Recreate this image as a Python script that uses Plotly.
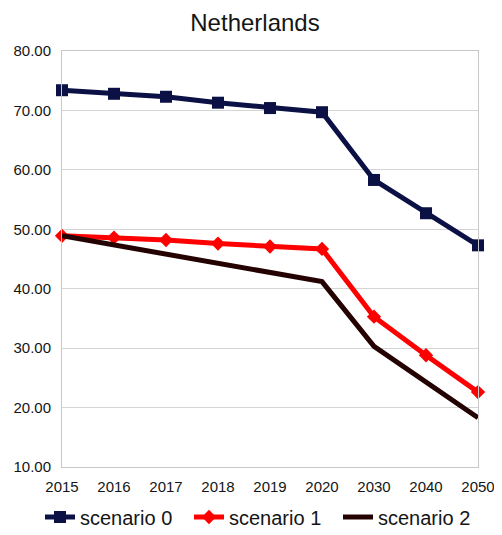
import plotly.graph_objects as go

years = ["2015", "2016", "2017", "2018", "2019", "2020", "2030", "2040", "2050"]
scenario0 = [73.4, 72.8, 72.3, 71.3, 70.4, 69.7, 58.3, 52.7, 47.3]
scenario1 = [48.9, 48.6, 48.2, 47.6, 47.1, 46.7, 35.3, 28.8, 22.6]
scenario2 = [48.9, 47.4, 45.9, 44.3, 42.8, 41.2, 30.3, 24.3, 18.3]
y_ticks = [10, 20, 30, 40, 50, 60, 70, 80]

fig = go.Figure()
fig.add_trace(go.Scatter(x=years, y=scenario0, name="scenario 0", mode="lines+markers",
                         line=dict(color="#0b1145", width=5),
                         marker=dict(symbol="square", size=12, color="#0b1145"),
                         cliponaxis=False))
fig.add_trace(go.Scatter(x=years, y=scenario1, name="scenario 1", mode="lines+markers",
                         line=dict(color="#ff0000", width=5),
                         marker=dict(symbol="diamond", size=11, color="#ff0000"),
                         cliponaxis=False))
fig.add_trace(go.Scatter(x=years, y=scenario2, name="scenario 2", mode="lines",
                         line=dict(color="#250202", width=5),
                         cliponaxis=False))

# page body has 8px margin; figure sized to fit the 502x535 window
fig.update_layout(
    width=494, height=527,
    margin=dict(l=54, r=24, t=43, b=68, autoexpand=False),
    paper_bgcolor="white", plot_bgcolor="white",
    font=dict(family="Liberation Sans, Arial", color="#151515"),
    title=dict(text="Netherlands", x=0.5, xanchor="center",
               y=1 - 15 / 527, yanchor="middle",
               font=dict(size=24, color="#151515")),
    xaxis=dict(type="category", range=[0, 8], showgrid=False,
               showline=True, linecolor="#c8c8c8", mirror=True, automargin=False,
               ticks="", tickfont=dict(size=15), ticklabelstandoff=6),
    yaxis=dict(range=[10, 80], tickvals=y_ticks, tickformat=".2f",
               showgrid=True, gridcolor="#d4d4d4", gridwidth=1,
               showline=True, linecolor="#c8c8c8", mirror=True, automargin=False,
               ticks="", tickfont=dict(size=15), zeroline=False,
               ticklabelstandoff=7),
    legend=dict(orientation="h", xref="paper", yref="paper",
                x=-22 / 416, xanchor="left", y=-50 / 416, yanchor="middle",
                bgcolor="rgba(0,0,0,0)",
                font=dict(size=20), itemwidth=30, tracegroupgap=0,
                entrywidth=104, entrywidthmode="pixels"),
)

fig.write_html("out.html")
